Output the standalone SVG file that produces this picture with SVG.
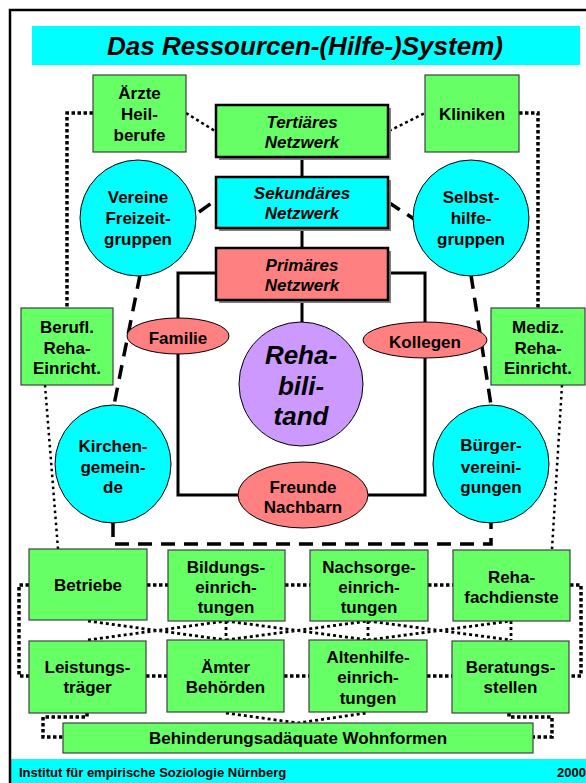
<svg xmlns="http://www.w3.org/2000/svg" width="586" height="783" viewBox="0 0 586 783">
<style>
text{font-family:"Liberation Sans",Arial,sans-serif;font-weight:bold;font-size:17px;text-anchor:middle;fill:#000}
.it{font-style:italic}
.big{font-size:26px;font-style:italic}
.g{fill:#66FF66;stroke:#404040;stroke-width:1.2}
.c{fill:#00FFFF;stroke:#000;stroke-width:1}
.r{fill:#FF8080;stroke:#000;stroke-width:1}
.v{fill:#CC99FF;stroke:#000;stroke-width:1}
.nb{stroke:#000;stroke-width:2.5}
.sh{fill:#808080}
.solid{fill:none;stroke:#000;stroke-width:3}
.dash{fill:none;stroke:#000;stroke-width:3.5;stroke-dasharray:14 9}
.dotb{fill:none;stroke:#000;stroke-width:3.5;stroke-dasharray:3.5 2.5}
.dots{fill:none;stroke:#000;stroke-width:2.5;stroke-dasharray:2.5 3.5}
</style>
<rect x="0" y="0" width="586" height="783" fill="#fff"/>
<rect x="10" y="759" width="576" height="24" fill="#00FFFF"/>
<rect x="10" y="10" width="600" height="800" fill="none" stroke="#000" stroke-width="2.5"/>
<g id="title">
<rect x="32" y="26" width="548" height="39" fill="#00FFFF"/>
<text x="305" y="55" class="it" style="font-size:26px">Das Ressourcen-(Hilfe-)System)</text>
</g>
<g id="footer">
<text x="19" y="777" style="font-size:13px;text-anchor:start">Institut für empirische Soziologie Nürnberg</text>
<text x="557" y="777" style="font-size:13px;text-anchor:start">2000</text>
</g>
<g id="connectors">
<path class="solid" d="M302,157V177M302,228V248M302,300V322"/>
<path class="solid" d="M216,273H178V318M388,273H425V322"/>
<path class="solid" d="M178,354V495H238M425,358V495H368"/>
<path class="dotb" style="stroke-width:2.5;stroke-dasharray:3 3" d="M186,113L215,131M389,131L425,113"/>
<path class="dotb" d="M93,113H67V308M519,113H538V308"/>
<path class="dash" d="M199,212L216,200M388,202L414,219"/>
<path class="dash" d="M140,275L114,405M471,275L491,405"/>
<path class="dash" d="M113,523V544H491V523"/>
<path class="dots" d="M45,385L58,549M562,385L552,549"/>
<path class="dotb" d="M147,585H168M285,585H310M428,585H453"/>
<path class="dotb" d="M146,676H167M284,676H309M427,676H452"/>
<path class="dotb" d="M29,585H19V676H29M570,585H581V676H569"/>
<path class="dots" style="stroke-width:2.8;stroke-dasharray:3 3" d="M88,621L226,640M88,640L226,621M226,621V640M226,621L368,640M226,640L368,621M368,621V640M368,621L511,640M368,640L511,621M511,621V640"/>
<path class="dotb" d="M87,713V717H43V737H63M509,713V717H552V737H533"/>
<path class="dots" style="stroke-width:2.8;stroke-dasharray:3 3" d="M226,713L298,723L366,713"/>
</g>
<g id="aerzte"><rect class="g" x="93" y="75" width="93" height="77"/><text x="139.5" y="99">Ärzte</text><text x="139.5" y="120">Heil-</text><text x="139.5" y="141">berufe</text></g>
<g id="kliniken"><rect class="g" x="425" y="75" width="94" height="77"/><text x="472" y="120">Kliniken</text></g>
<g id="tertiaer"><rect class="sh" x="219" y="108" width="172" height="52"/><rect class="g nb" x="216" y="105" width="172" height="52"/><text class="it" x="302" y="128">Tertiäres</text><text class="it" x="302" y="148">Netzwerk</text></g>
<g id="sekundaer"><rect class="sh" x="219" y="180" width="172" height="51"/><rect class="c nb" x="216" y="177" width="172" height="51"/><text class="it" x="302" y="199">Sekundäres</text><text class="it" x="302" y="219">Netzwerk</text></g>
<g id="primaer"><rect class="sh" x="219" y="251" width="172" height="52"/><rect class="r nb" x="216" y="248" width="172" height="52"/><text class="it" x="302" y="271">Primäres</text><text class="it" x="302" y="291">Netzwerk</text></g>
<g id="vereine"><ellipse class="c" cx="138" cy="218" rx="58" ry="58"/><text x="138" y="203">Vereine</text><text x="138" y="224">Freizeit-</text><text x="138" y="245">gruppen</text></g>
<g id="selbsthilfe"><ellipse class="c" cx="471" cy="218" rx="58" ry="58"/><text x="471" y="203">Selbst-</text><text x="471" y="224">hilfe-</text><text x="471" y="245">gruppen</text></g>
<g id="berufl"><rect class="g" x="21" y="308" width="92" height="77"/><text x="67" y="333">Berufl.</text><text x="67" y="354">Reha-</text><text x="67" y="374">Einricht.</text></g>
<g id="mediz"><rect class="g" x="491" y="308" width="94" height="77"/><text x="538" y="333">Mediz.</text><text x="538" y="354">Reha-</text><text x="538" y="374">Einricht.</text></g>
<g id="familie"><ellipse class="r" cx="178" cy="336" rx="51" ry="18"/><text x="178" y="344">Familie</text></g>
<g id="kollegen"><ellipse class="r" cx="425" cy="340" rx="62" ry="18"/><text x="425" y="348">Kollegen</text></g>
<g id="rehabilitand"><ellipse class="v" cx="301" cy="384" rx="62" ry="62"/><text class="big" x="301" y="364">Reha-</text><text class="big" x="301" y="395">bili-</text><text class="big" x="301" y="425">tand</text></g>
<g id="kirchen"><ellipse class="c" cx="113" cy="464" rx="58" ry="59"/><text x="113" y="452">Kirchen-</text><text x="113" y="473">gemein-</text><text x="113" y="493">de</text></g>
<g id="buerger"><ellipse class="c" cx="491" cy="464" rx="58" ry="59"/><text x="491" y="451">Bürger-</text><text x="491" y="473">vereini-</text><text x="491" y="493">gungen</text></g>
<g id="freunde"><ellipse class="r" cx="303" cy="495" rx="65" ry="33"/><text x="303" y="493">Freunde</text><text x="303" y="513">Nachbarn</text></g>
<g id="betriebe"><rect class="g" x="29" y="549" width="118" height="71"/><text x="88" y="591">Betriebe</text></g>
<g id="bildung"><rect class="g" x="168" y="550" width="117" height="71"/><text x="226" y="573">Bildungs-</text><text x="226" y="593">einrich-</text><text x="226" y="613">tungen</text></g>
<g id="nachsorge"><rect class="g" x="310" y="550" width="118" height="71"/><text x="369" y="573">Nachsorge-</text><text x="369" y="593">einrich-</text><text x="369" y="613">tungen</text></g>
<g id="rehafach"><rect class="g" x="453" y="550" width="117" height="71"/><text x="511.5" y="583">Reha-</text><text x="511.5" y="603">fachdienste</text></g>
<g id="leistung"><rect class="g" x="29" y="641" width="117" height="72"/><text x="87.5" y="673">Leistungs-</text><text x="87.5" y="693">träger</text></g>
<g id="aemter"><rect class="g" x="167" y="640" width="117" height="72"/><text x="225.5" y="673">Ämter</text><text x="225.5" y="693">Behörden</text></g>
<g id="altenhilfe"><rect class="g" x="309" y="640" width="118" height="72"/><text x="368" y="663">Altenhilfe-</text><text x="368" y="683">einrich-</text><text x="368" y="704">tungen</text></g>
<g id="beratung"><rect class="g" x="452" y="641" width="117" height="72"/><text x="510.5" y="673">Beratungs-</text><text x="510.5" y="693">stellen</text></g>
<g id="wohnformen"><rect class="g" x="63" y="723" width="470" height="30"/><text x="298" y="744">Behinderungsadäquate Wohnformen</text></g>
</svg>
